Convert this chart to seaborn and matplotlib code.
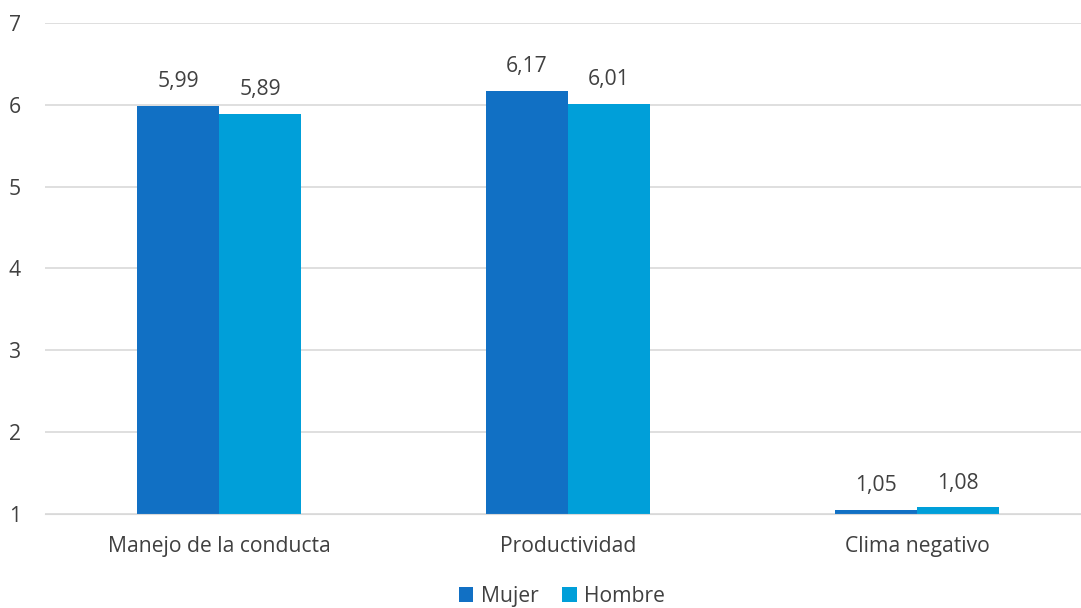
import seaborn as sns
import matplotlib.pyplot as plt
import pandas as pd

categories = ["Manejo de la conducta", "Productividad", "Clima negativo"]
mujer = [5.99, 6.17, 1.05]
hombre = [5.89, 6.01, 1.08]
series = ["Mujer", "Hombre"]
palette = ["#1170C4", "#009FD9"]

df = pd.DataFrame({
    "Categoria": categories * 2,
    "Valor": mujer + hombre,
    "Sexo": [series[0]] * 3 + [series[1]] * 3,
})

sns.set_style("white")
plt.rcParams["font.family"] = ["Open Sans", "DejaVu Sans"]

fig = plt.figure(figsize=(10.81, 6.08), dpi=100)
ax = fig.add_axes([0.0412, 0.1546, 0.9686, 0.8076])

sns.barplot(data=df, x="Categoria", y="Valor", hue="Sexo", palette=palette,
            saturation=1, width=0.47, linewidth=0, ax=ax, legend=True)

ax.set_ylim(1, 7)
ax.set_xlim(-0.5, 2.5)
ax.set_yticks(range(1, 8))
ax.yaxis.grid(True, color="#D9D9D9", linewidth=1.2)
ax.set_axisbelow(True)
ax.set_xlabel("")
ax.set_ylabel("")
ax.tick_params(axis="both", length=0, labelsize=15.2, colors="#404040")
ax.tick_params(axis="x", pad=16)
ax.tick_params(axis="y", pad=17)

for container in ax.containers:
    labels = [f"{v:.2f}".replace(".", ",") for v in container.datavalues]
    ax.bar_label(container, labels=labels, padding=10, size=15.2, color="#404040")

sns.despine(left=True, bottom=True)
ax.spines["bottom"].set_visible(True)
ax.spines["bottom"].set_color("#D9D9D9")

ax.legend(loc="lower center", bbox_to_anchor=(0.494, -0.228), ncol=2,
          frameon=False, fontsize=15.2, handlelength=0.7, handleheight=0.7,
          handletextpad=0.35, columnspacing=1.1, labelcolor="#404040")

fig.savefig("out.png", dpi=100)
